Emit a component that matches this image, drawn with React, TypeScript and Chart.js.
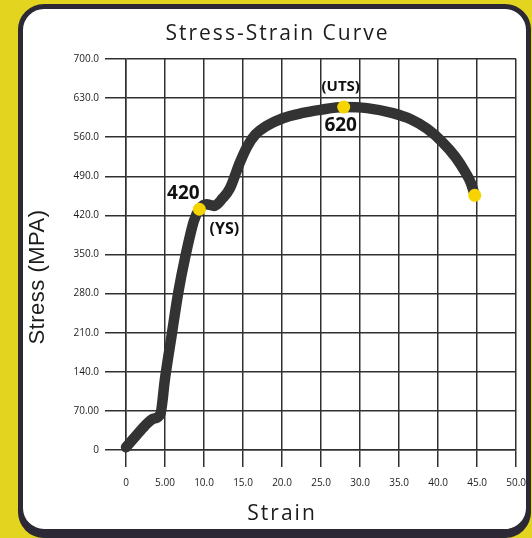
import React, { useEffect, useRef } from 'react';
import { Chart, registerables } from 'chart.js';

Chart.register(...registerables);

const chartTitle = 'Stress-Strain Curve';
const xAxisTitle = 'Strain';
const yAxisTitle = 'Stress (MPA)';

const strain = [0, 1.2, 2.4, 3.5, 4.4, 5.0, 5.9, 6.7, 7.6, 8.7, 9.4, 10.3, 11.3, 12.4, 13.3, 14.6, 15.6, 16.6, 18.0, 20.1, 22.5, 24.9, 27.9, 30.9, 34.2, 36.5, 38.6, 40.5, 42.2, 43.5, 44.2, 44.7];
const stress = [5, 24, 43, 56, 64, 128, 210, 282, 346, 410, 431, 440, 437, 451, 468, 515, 545, 565, 580, 594, 603, 609, 614, 612, 603, 592, 575, 552, 525, 497, 478, 456];

const markerStrain = [9.4, 27.9, 44.7];
const markerStress = [431, 614, 456];
const markerTextAbove = ['420', '(UTS)', ''];
const markerTextBelow = ['(YS)', '620', ''];

const xTickLabels = ['0', '5.00', '10.0', '15.0', '20.0', '25.0', '30.0', '35.0', '40.0', '45.0', '50.0'];
const yTickLabels = ['0', '70.00', '140.0', '210.0', '280.0', '350.0', '420.0', '490.0', '560.0', '630.0', '700.0'];

const FONT = '"Open Sans", "DejaVu Sans", sans-serif';
const GRID = '#303030';
const TEXT = '#1c1c1c';

// label offsets (style only): [dx, dy, fontSize] for above / below texts
const aboveStyle = [[-16, -16, 19], [-3, -20, 15], [0, 0, 12]];
const belowStyle = [[25, 20, 16], [-3, 19, 19], [0, 0, 12]];

const markerLabelPlugin = {
  id: 'markerLabels',
  afterDatasetsDraw(chart: any) {
    const meta = chart.getDatasetMeta(0);
    const ctx = chart.ctx;
    ctx.save();
    ctx.fillStyle = '#111111';
    ctx.textAlign = 'center';
    ctx.textBaseline = 'middle';
    meta.data.forEach((pt: any, i: number) => {
      const a = markerTextAbove[i];
      const b = markerTextBelow[i];
      if (a) {
        const [dx, dy, fs] = aboveStyle[i];
        ctx.font = `bold ${fs}px ${FONT}`;
        ctx.fillText(a, pt.x + dx, pt.y + dy);
      }
      if (b) {
        const [dx, dy, fs] = belowStyle[i];
        ctx.font = `bold ${fs}px ${FONT}`;
        ctx.fillText(b, pt.x + dx, pt.y + dy);
      }
    });
    ctx.restore();
  },
};

const textSpacingPlugin = {
  id: 'textSpacing',
  afterLayout(chart: any) {
    const ctx = chart.ctx;
    const tb = chart.titleBlock;
    if (tb && !tb._spaced) {
      const orig = tb.draw.bind(tb);
      tb.draw = (area: any) => {
        ctx.save();
        ctx.letterSpacing = '2px';
        ctx.translate(-2, 0);
        orig(area);
        ctx.restore();
      };
      tb._spaced = true;
    }
    const sx = chart.scales.x;
    if (sx && !sx._spaced) {
      const orig = sx.drawTitle.bind(sx);
      sx.drawTitle = () => {
        ctx.save();
        ctx.letterSpacing = '2px';
        ctx.translate(-39, 0);
        orig();
        ctx.restore();
      };
      sx._spaced = true;
    }
    const sy = chart.scales.y;
    if (sy && !sy._spaced) {
      const orig = sy.drawTitle.bind(sy);
      sy.drawTitle = () => {
        ctx.save();
        ctx.letterSpacing = '0.5px';
        ctx.translate(0, 22.5);
        orig();
        ctx.restore();
      };
      sy._spaced = true;
    }
  },
};

export default function App() {
  const ref = useRef<HTMLCanvasElement | null>(null);

  useEffect(() => {
    if (!ref.current) return;
    const chart = new Chart(ref.current, {
      type: 'line',
      data: {
        datasets: [
          {
            label: 'Key points',
            data: markerStrain.map((x, i) => ({ x, y: markerStress[i] })),
            showLine: false,
            pointRadius: 6.5,
            pointHoverRadius: 6.5,
            pointBackgroundColor: '#f6d400',
            pointBorderWidth: 0,
            order: 0,
            clip: false,
          },
          {
            label: 'Stress-Strain',
            data: strain.map((x, i) => ({ x, y: stress[i] })),
            borderColor: '#333333',
            borderWidth: 10.5,
            pointRadius: 0,
            cubicInterpolationMode: 'monotone',
            borderCapStyle: 'round',
            borderJoinStyle: 'round',
            fill: false,
            order: 1,
            clip: false,
          },
        ],
      },
      options: {
        animation: false,
        responsive: false,
        events: [],
        layout: { padding: { left: 0, right: 0, top: 0, bottom: 0 } },
        plugins: {
          legend: { display: false },
          tooltip: { enabled: false },
          title: {
            display: true,
            text: chartTitle,
            color: TEXT,
            font: { family: FONT, size: 21, weight: 'normal', lineHeight: 1.2 },
            padding: { top: 12.4, bottom: 12.4 },
          },
        },
        scales: {
          x: {
            type: 'linear',
            min: 0,
            max: 50,
            afterFit: (s: any) => { s.height = 79; },
            ticks: {
              stepSize: 5,
              color: TEXT,
              padding: 10,
              maxRotation: 0,
              font: { family: FONT, size: 10 },
              callback: (_v: any, i: number) => xTickLabels[i],
            },
            grid: { color: GRID, lineWidth: 1.5, tickLength: 17, tickColor: GRID },
            border: { color: GRID, width: 1.5 },
            title: {
              display: true,
              text: xAxisTitle,
              color: TEXT,
              font: { family: FONT, size: 21, lineHeight: 1.2 },
              padding: { top: 0, bottom: 2.4 },
            },
          },
          y: {
            type: 'linear',
            min: 0,
            max: 700,
            afterFit: (s: any) => { s.width = 103; },
            ticks: {
              stepSize: 70,
              color: TEXT,
              padding: 6,
              font: { family: FONT, size: 10 },
              callback: (_v: any, i: number) => yTickLabels[i],
            },
            grid: { color: GRID, lineWidth: 1.5, tickLength: 21, tickColor: GRID },
            border: { color: GRID, width: 1.5 },
            title: {
              display: true,
              text: yAxisTitle,
              color: TEXT,
              font: { family: '"Liberation Sans", Arial, sans-serif', size: 22, lineHeight: 1.2 },
              padding: { top: 1.8, bottom: 0 },
            },
          },
        },
      } as any,
      plugins: [textSpacingPlugin, markerLabelPlugin],
    });
    return () => chart.destroy();
  }, []);

  return (
    <div style={{ position: 'fixed', left: 0, top: 0, width: 532, height: 538, background: '#e3d420', overflow: 'hidden' }}>
      <div
        style={{
          position: 'absolute',
          left: 18,
          top: 4,
          width: 503,
          height: 520,
          border: '5px solid #2c2836',
          borderRadius: 26,
          background: '#ffffff',
          boxShadow: '0 4px 0 #2c2836',
        }}
      />
      <div style={{ position: 'absolute', left: 23, top: 9, width: 513, height: 520 }}>
        <canvas ref={ref} width={513} height={520} style={{ display: 'block' }} />
      </div>
    </div>
  );
}
